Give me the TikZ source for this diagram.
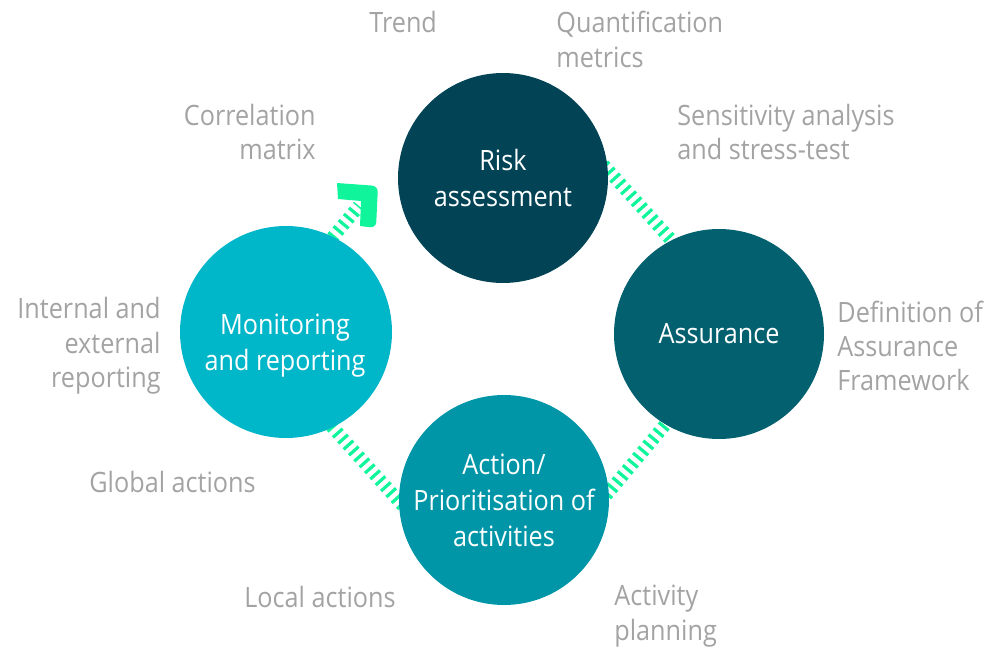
\documentclass[tikz,border=0pt]{standalone}
\usepackage{fontspec}
\setmainfont{Open Sans}[FakeStretch=0.9]
\definecolor{riskc}{HTML}{024456}
\definecolor{assc}{HTML}{03606F}
\definecolor{actc}{HTML}{0096A7}
\definecolor{monc}{HTML}{00B6C9}
\definecolor{greenc}{HTML}{10F59C}
\definecolor{labc}{HTML}{A3A3A3}
\tikzset{
  bubble/.style={circle, minimum size=105pt, inner sep=0pt, text=white, align=center, font=\fontsize{14}{18}\selectfont},
  lab/.style={text=labc, inner sep=0pt, font=\fontsize{14}{17.2}\selectfont},
  hatch/.style={draw=greenc, line width=6.5pt, dash pattern=on 1.6pt off 2.4pt},
}
\begin{document}
\begin{tikzpicture}[x=0.5pt,y=-0.5pt]
\useasboundingbox (0,0) rectangle (1006,647);
% connector coordinates
\coordinate (h1a) at (598,159);
\coordinate (h1b) at (682,252);
\coordinate (h2a) at (675,413);
\coordinate (h2b) at (598,505);
\coordinate (h3a) at (326,420);
\coordinate (h3b) at (405,508);
\coordinate (h4a) at (322,250);
\coordinate (h4b) at (359,206);
\draw[hatch] (h1a) -- (h1b);
\draw[hatch] (h2a) -- (h2b);
\draw[hatch] (h3a) -- (h3b);
\draw[hatch] (h4a) -- (h4b);
% arrow head
\fill[greenc] (337,183) [rounded corners=3pt] -- (378,186) -- (376,228) [sharp corners] -- (360,226) -- (361,201) -- (338,199) -- cycle;
% circles
\node[bubble, fill=riskc] (risk) at (503,178) {Risk\\assessment};
\node[bubble, fill=assc] (ass) at (719,334) {Assurance};
\node[bubble, fill=actc] (act) at (504,500) {Action/\\Prioritisation of\\activities};
\node[bubble, fill=monc, minimum size=106pt] (mon) at (286,332) {};
\node[bubble, minimum size=0pt] (montext) at (285,346) {Monitoring\\and reporting};
% labels
\node[lab, anchor=west] (l1) at (369,22) {Trend};
\node[lab, anchor=west, align=left] (l2) at (556,39.5) {Quantification\\metrics};
\node[lab, anchor=east, align=right] (l3) at (316,132) {Correlation\\matrix};
\node[lab, anchor=west, align=left] (l4) at (677,132) {Sensitivity analysis\\and stress-test};
\node[lab, anchor=east, align=right] (l5) at (161,346) {Internal and\\external\\reporting};
\node[lab, anchor=west, align=left] (l6) at (837,346) {Definition of\\Assurance\\Framework};
\node[lab, anchor=west] (l7) at (89,482) {Global actions};
\node[lab, anchor=west] (l8) at (244,597) {Local actions};
\node[lab, anchor=west, align=left] (l9) at (614,616) {Activity\\planning};
\end{tikzpicture}
\end{document}
